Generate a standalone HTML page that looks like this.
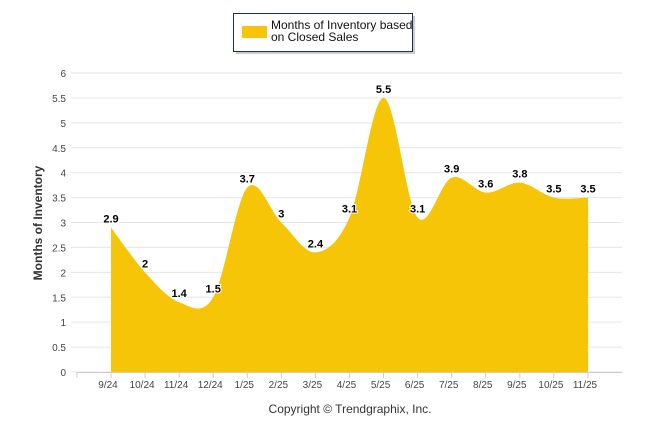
<!DOCTYPE html>
<html><head><meta charset="utf-8"><style>
body{margin:0;background:#fff;}
svg{display:block;font-family:"Liberation Sans",sans-serif;}
</style></head><body>
<svg width="646" height="434" viewBox="0 0 646 434">
<g id="grid"></g>
<g id="yticks"></g>
<g id="xaxis"></g>
<path id="area" fill="#f7c508"/>
<g id="labels"></g>
<text x="0" y="0" transform="translate(42,223) rotate(-90)" text-anchor="middle" font-size="12" font-weight="bold" fill="#333">Months of Inventory</text>
<text x="350" y="413" text-anchor="middle" font-size="12" fill="#333">Copyright © Trendgraphix, Inc.</text>
<g>
<rect x="236" y="16" width="179" height="38" fill="#999" opacity="0.5"/>
<rect x="233.5" y="13.5" width="179" height="38" fill="#fff" stroke="#1f2d4f" stroke-width="1"/>
<rect x="242" y="26" width="25" height="12" fill="#f7c508"/>
<text x="271" y="29" font-size="12" fill="#111"><tspan x="271">Months of Inventory based</tspan><tspan x="271" dy="12">on Closed Sales</tspan></text>
</g>
</svg>
<script>
const categories=["9/24","10/24","11/24","12/24","1/25","2/25","3/25","4/25","5/25","6/25","7/25","8/25","9/25","10/25","11/25"];
const values=[2.9,2,1.4,1.5,3.7,3,2.4,3.1,5.5,3.1,3.9,3.6,3.8,3.5,3.5];
const yTicks=[0,0.5,1,1.5,2,2.5,3,3.5,4,4.5,5,5.5,6];
const NS="http://www.w3.org/2000/svg";
const x0=111,dx=34.07,yb=372,yt=73;
const X=i=>x0+i*dx, Y=v=>yb-(v/6)*(yb-yt);
function mk(t,a,p,txt){const e=document.createElementNS(NS,t);for(const k in a)e.setAttribute(k,a[k]);if(txt!==undefined)e.textContent=txt;p.appendChild(e);return e;}
const grid=document.getElementById('grid'),yt_=document.getElementById('yticks'),xa=document.getElementById('xaxis'),lb=document.getElementById('labels');
yTicks.forEach(v=>{
 const l=mk('line',{x1:71,x2:622,y1:Y(v),y2:Y(v),stroke:'#e6e6e6','stroke-width':1},grid);
 
 
 const t=mk('text',{x:66,y:Y(v)+4,'text-anchor':'end','font-size':10,fill:'#444'},yt_,String(v));
 
 
});
mk('line',{x1:77,x2:X(categories.length-1)+34,y1:yb+0.5,y2:yb+0.5,stroke:'#ccc'},xa);
for(let i=-1;i<categories.length;i++){mk('line',{x1:X(i),x2:X(i),y1:yb,y2:yb+6,stroke:'#ccc'},xa);}
categories.forEach((c,i)=>{
 const t=mk('text',{x:X(i)-3,y:yb+16,'text-anchor':'middle','font-size':10,fill:'#444'},xa,c);
 
 
});
// Catmull-Rom spline
const pts=values.map((v,i)=>({x:X(i),y:Y(v)}));
let d=`M${X(0)},${yb}L${pts[0].x},${pts[0].y}`;
for(let i=0;i<pts.length-1;i++){
 const p0=pts[i-1]||pts[i],p1=pts[i],p2=pts[i+1],p3=pts[i+2]||pts[i+1];
 const c1x=p1.x+(p2.x-p0.x)/6,c1y=p1.y+(p2.y-p0.y)/6;
 const c2x=p2.x-(p3.x-p1.x)/6,c2y=p2.y-(p3.y-p1.y)/6;
 d+=`C${c1x},${c1y} ${c2x},${c2y} ${p2.x},${p2.y}`;
}
d+=`L${pts[pts.length-1].x},${yb}Z`;
document.getElementById('area').setAttribute('d',d);
values.forEach((v,i)=>{
 const t=mk('text',{x:X(i),y:Y(v)-5,'text-anchor':'middle','font-size':11,'font-weight':'bold',fill:'#000',stroke:'#fff','stroke-width':2,'paint-order':'stroke'},lb,String(v));
 
 
});
</script>
</body></html>
